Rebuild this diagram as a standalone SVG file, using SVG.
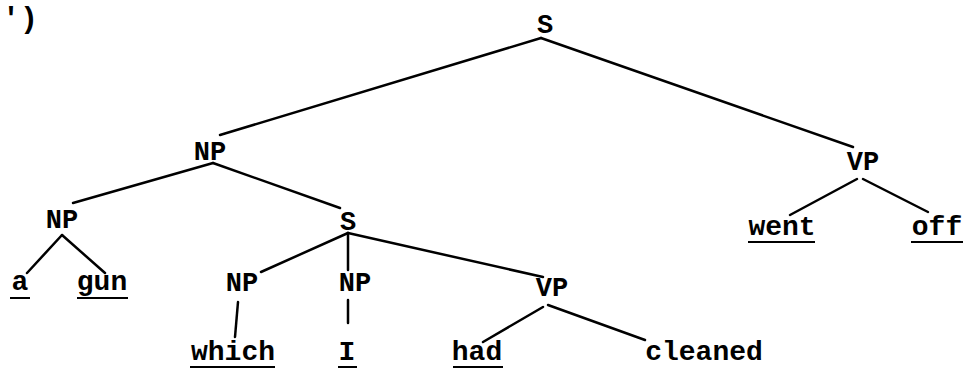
<svg xmlns="http://www.w3.org/2000/svg" width="964" height="370" viewBox="0 0 964 370">
<style>
.t{font-family:"Liberation Mono","Courier New",monospace;font-size:27px;font-weight:bold;fill:#000;text-anchor:middle}
.w{font-family:"Liberation Mono","Courier New",monospace;font-size:28px;font-weight:bold;fill:#000;text-anchor:middle}
.e{stroke:#000;stroke-width:2.5;fill:none;stroke-linecap:round}
.u{stroke:#000;stroke-width:2;fill:none}
</style>
<rect width="964" height="370" fill="#fff"/>
<text x="2" y="28" class="w" style="font-size:30px;text-anchor:start">')</text>
<g id="connectors">
<line class="e" x1="541" y1="38" x2="220" y2="135"/>
<line class="e" x1="541" y1="38" x2="853" y2="147"/>
<line class="e" x1="857" y1="179" x2="790" y2="215"/>
<line class="e" x1="863" y1="179" x2="928" y2="212"/>
<line class="e" x1="213" y1="163" x2="73" y2="203"/>
<line class="e" x1="213" y1="163" x2="340" y2="208"/>
<line class="e" x1="62" y1="235" x2="27" y2="273"/>
<line class="e" x1="62" y1="235" x2="105" y2="273"/>
<line class="e" x1="348" y1="233" x2="261" y2="272"/>
<line class="e" x1="348" y1="233" x2="348" y2="270"/>
<line class="e" x1="348" y1="233" x2="543" y2="277"/>
<line class="e" x1="238" y1="302" x2="235" y2="337"/>
<line class="e" x1="348" y1="300" x2="348" y2="323"/>
<line class="e" x1="543" y1="307" x2="483" y2="342"/>
<line class="e" x1="548" y1="305" x2="645" y2="340"/>
</g>
<g id="n-S"><text x="545" y="33" class="t">S</text></g>
<g id="n-NP1"><text x="210" y="160" class="t">NP</text></g>
<g id="n-VP1"><text x="863" y="170" class="t">VP</text></g>
<g id="n-went"><text x="782" y="235" class="w">went</text><line class="u" x1="748" y1="242" x2="815" y2="242"/></g>
<g id="n-off"><text x="937" y="235" class="w">off</text><line class="u" x1="911" y1="242" x2="963" y2="242"/></g>
<g id="n-NP2"><text x="62" y="228" class="t">NP</text></g>
<g id="n-S2"><text x="348" y="230" class="t">S</text></g>
<g id="n-a"><text x="20" y="290" class="w">a</text><line class="u" x1="10" y1="298" x2="30" y2="298"/></g>
<g id="n-gun"><text x="102" y="290" class="w">gun</text><line class="u" x1="77" y1="298" x2="128" y2="298"/></g>
<g id="n-NP3"><text x="242" y="291" class="t">NP</text></g>
<g id="n-NP4"><text x="355" y="291" class="t">NP</text></g>
<g id="n-VP2"><text x="552" y="296" class="t">VP</text></g>
<g id="n-which"><text x="233" y="360" class="w">which</text><line class="u" x1="190" y1="367" x2="275" y2="367"/></g>
<g id="n-I"><text x="347" y="360" class="w">I</text><line class="u" x1="338" y1="367" x2="357" y2="367"/></g>
<g id="n-had"><text x="477" y="360" class="w">had</text><line class="u" x1="453" y1="367" x2="503" y2="367"/></g>
<g id="n-cleaned"><text x="704" y="360" class="w">cleaned</text></g>
</svg>
